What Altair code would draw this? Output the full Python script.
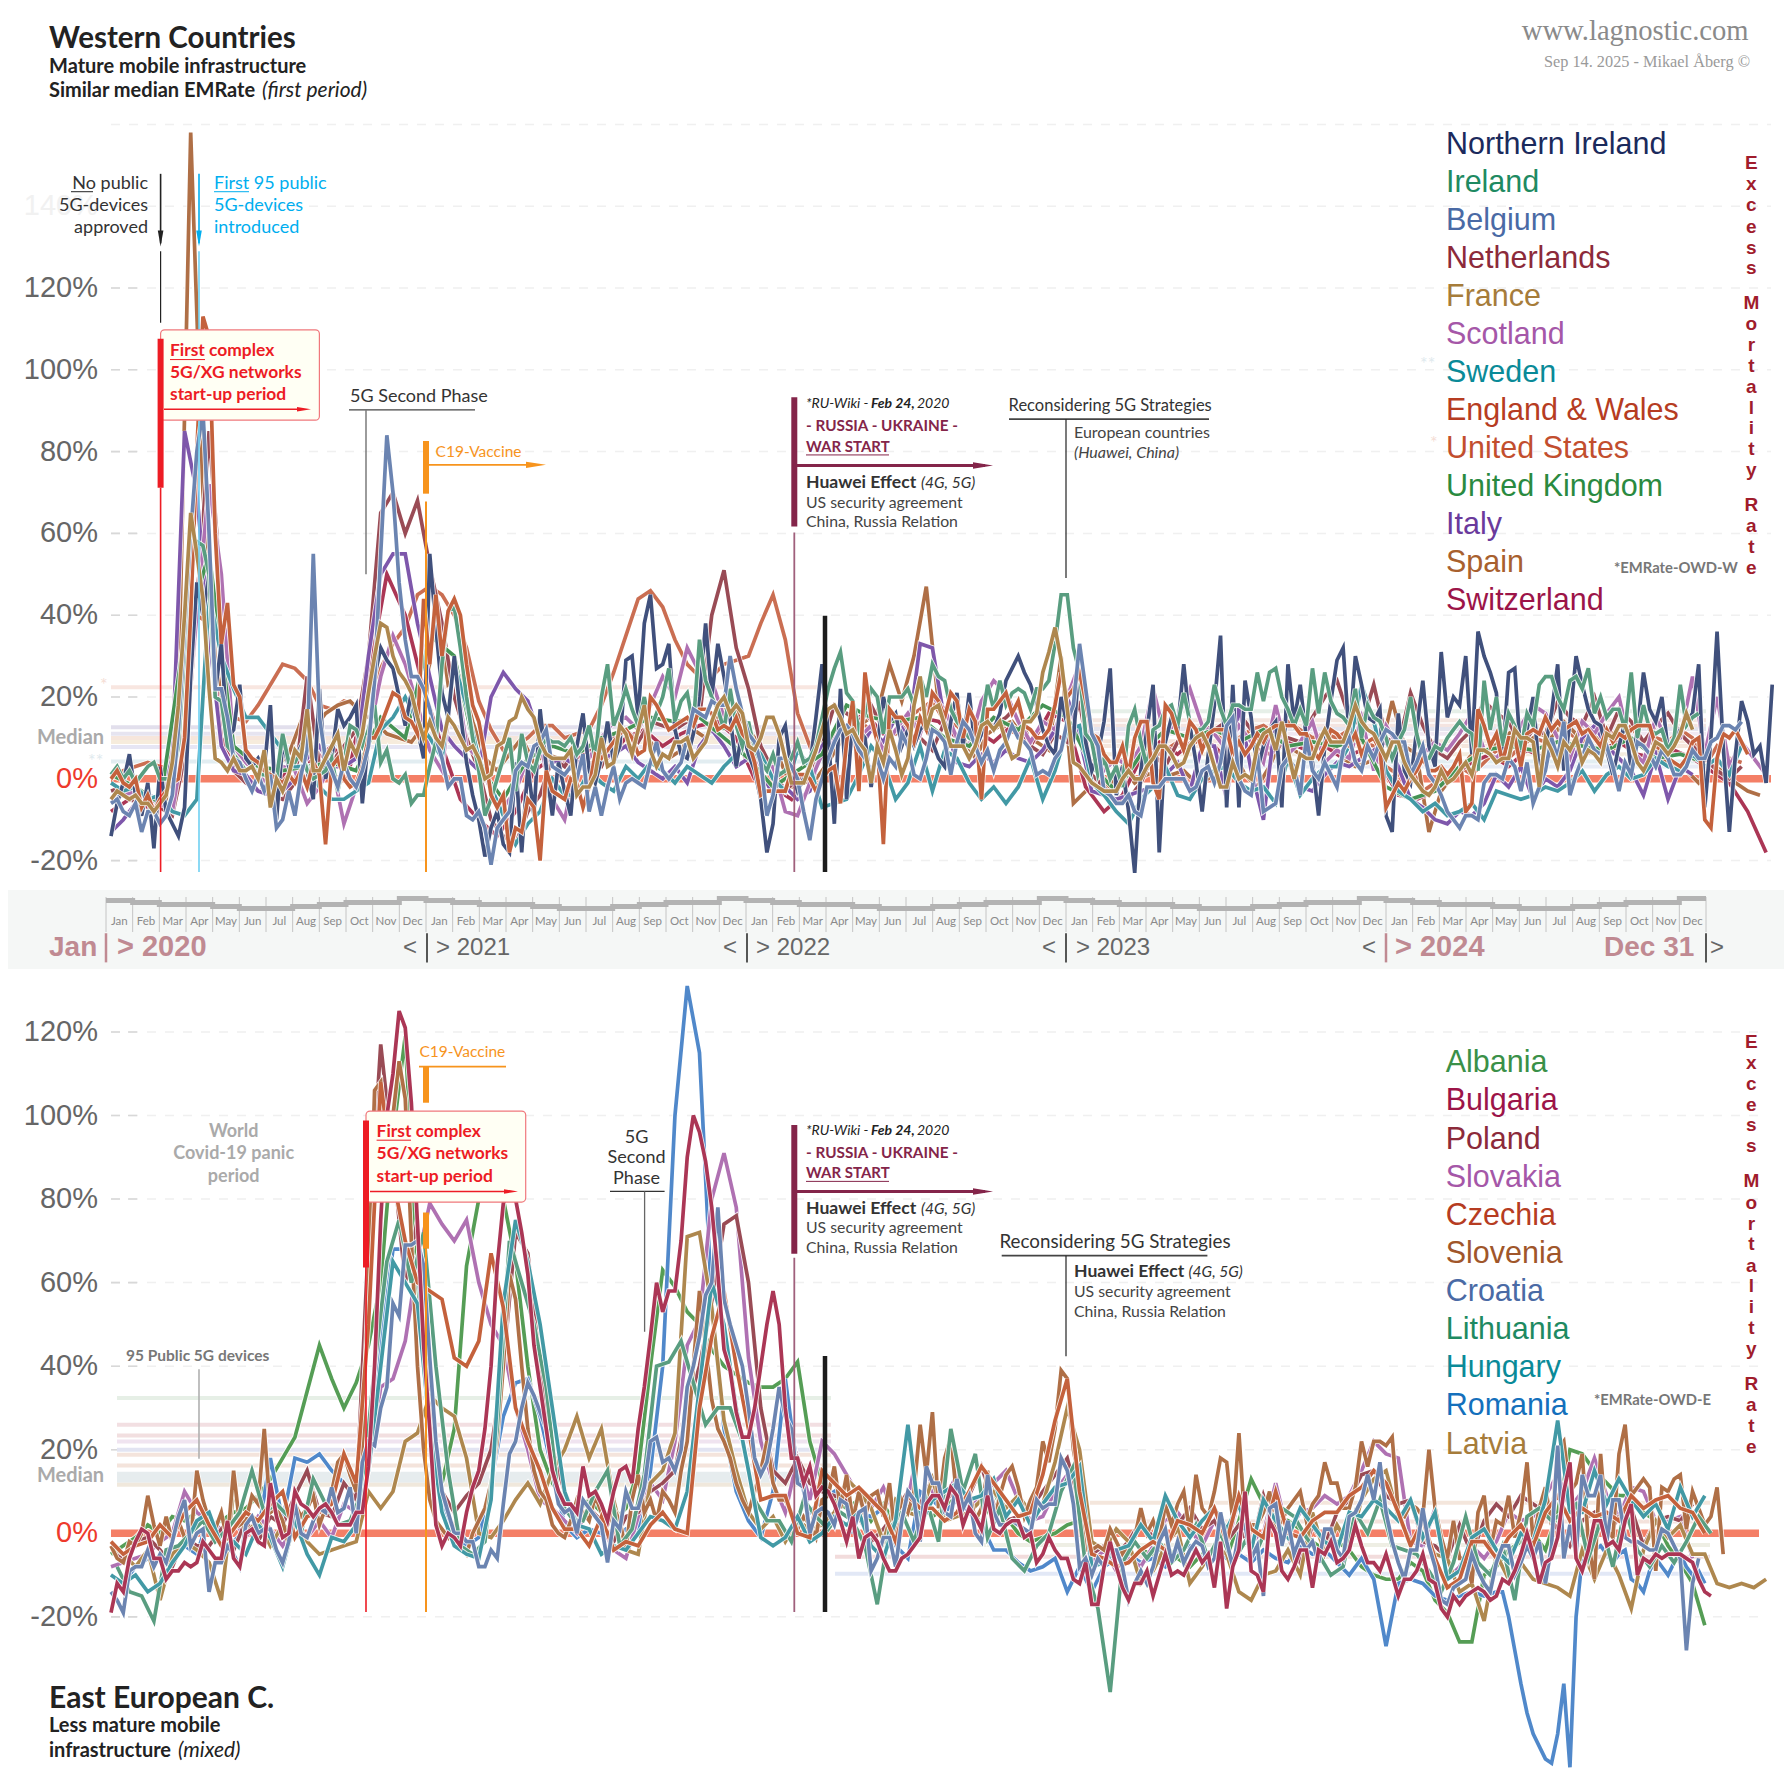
import altair as alt
import pandas as pd

# ---------- weekly excess-mortality readings (percent), West ----------
northern_ireland = [-14,-6,-1,6,-4,-9,-1,-17,3,-8, -11,-14,-7,25,48,40,50,21,33,10, 12,23,5,3,5,2,18,-10,9,3,
 5,8,2,-5,22,0,5,17,13,15, 18,-6,10,25,32,29,27,20,13,21, 12,5,55,37,21,15,30,16,4,-4,
 -10,-19,-12,-8,-16,-18,4,-18,3,-9, 17,3,-9,4,-3,-9,8,16,2,-1, 5,14,4,8,29,30,15,38,45,27,
 28,33,12,6,5,11,20,38,20,33, 25,15,3,12,6,2,-5,-18,-11,10, 13,2,-3,0,3,15,28,11,-11,22,
 -5,15,12,10,-2,8,20,14,16,8, 12,8,12,14,9,5,3,14,21,8, 21,7,11,14,12,16,24,27,30,26,
 23,18,12,8,6,20,13,10,29,9, 2,6,14,27,-4,3,-8,-23,2,12, 23,-18,9,15,12,28,13,4,-8,6,
 18,35,-7,23,-7,24,15,2,8,12, 14,-7,28,14,23,10,4,-9,8,19, 29,32,10,30,23,15,14,17,-9,-13,
 16,2,-1,12,24,8,3,31,15,20, 18,30,6,36,30,26,21,4,26,27, 5,12,20,1,8,16,28,2,14,30,
 23,17,14,13,7,1,8,14,2,12, 26,17,14,20,7,10,12,14,16,28, -7,10,36,8,-13,6,19,14,6,8,-1,23]
ireland = [1,3,0,2,-1,1,3,4,0,0, 0,8,30,50,58,57,50,20,19,8, 6,4,2,3,1,1,0,0,11,4,
 4,7,2,0,1,2,5,-3,4,13, 12,8,12,18,4,7,0,-1,1,-6, -4,-4,3,9,28,41,42,32,20,10,
 2,-9,-5,0,5,10,-3,11,4,2, 7,10,9,9,8,10,6,8,13,5, 20,28,13,17,22,17,13,20,12,16,
 20,27,14,19,21,13,34,24,20,17, 12,22,13,8,14,7,4,2,6,1, 2,5,9,4,5,8,15,22,27,31,
 21,19,12,16,22,20,11,20,20,20, 22,18,25,20,28,25,24,17,14,12, 10,9,13,23,17,24,18,21,22,21,
 17,22,22,24,33,45,45,32,26,11, 9,1,5,0,3,-2,13,17,9,3, 12,13,17,18,13,21,14,12,12,14,
 23,17,13,18,18,17,17,26,19,26, 27,20,17,13,17,13,27,16,26,19, 16,15,13,22,10,18,15,14,10,5,
 9,12,20,11,5,5,8,7,10,12, 14,12,11,2,24,12,20,8,16,13, 7,16,13,23,25,25,20,17,24,25,
 22,27,16,20,15,17,17,12,26,10, 18,12,11,12,7,10,23,13,15,16]
belgium = [-6,-5,-8,-9,-6,-13,-8,-8,-11,-9,-4,12,36,60,80,90,60,22,22,15,5,4,0,-3,1,-3,1,-12,-10,-3,-9,1,7,55,15,5,2,-2,4,0,-2,2,8,24,55,84,70,48,34,25,25,22,17,10,5,-2,0,0,-9,-10,-8,-12,-21,-12,-10,-8,2,
 4,3,8,9,12,3,2,1,3,0,6,-8,-2,-9,-2,3,-5,-1,0,-1,-2,4,9,2,0,2,4,10,17,16,15,19,18,18,30,22,16,11,9,4,-9,-4,5,5,3,0,-8,-15,-5,0,5,9,12,13,11,7,5,2,5,0,5,3,11,8,1,0,5,12,
 11,9,1,9,14,12,8,4,7,2,7,9,13,10,9,7,1,2,1,5,7,14,18,33,22,11,8,-3,-4,-6,-6,-4,-8,-9,-2,-2,-2,0,0,0,0,-3,-2,2,3,-1,4,13,15,0,-3,-4,6,-8,-7,-6,3,5,3,-4,10,2,0,4,1,-2,7,10,4,
 2,8,5,9,12,11,9,9,1,4,8,1,-1,-4,-8,-10,-12,-9,-9,-10,-1,1,1,0,5,3,-3,4,-6,-2,2,10,5,14,-4,1,5,10,7,6,8,3,-3,4,1,9,8,6,3,7,5,1,1,3,7,5,5,9,10,13,13,12,14]
france = [-5,-3,-4,-5,-4,-6,-6,-8,-6,-4,4,18,40,65,55,44,22,5,4,2,5,2,2,3,0,7,-7,0,-3,1,7,5,17,2,2,5,8,11,2,9,6,11,21,30,38,37,30,26,24,21,15,10,14,10,8,15,13,10,7,8,5,0,1,8,9,14,15,
 20,17,15,9,6,5,5,5,7,-4,-2,-2,1,10,3,4,13,11,6,12,18,7,3,6,5,9,9,10,5,7,9,14,18,20,16,18,16,8,7,10,15,15,11,5,-1,-1,-1,3,7,12,17,18,15,11,12,9,7,-1,8,4,12,7,1,5,18,25,
 12,17,18,13,8,8,8,5,8,13,14,12,14,9,5,6,14,14,16,26,31,37,29,17,4,3,1,-1,-2,-3,-3,-3,0,2,0,0,3,5,8,8,6,3,4,8,10,11,8,3,-2,-2,4,0,1,0,8,11,12,7,14,7,0,6,5,5,9,12,
 9,9,9,13,18,14,12,11,8,5,9,9,4,1,-1,-3,-4,-2,2,-1,0,2,4,1,7,7,6,4,5,5,12,10,10,9,-2,10,7,3,9,7,10,4,7,6,4,11,10,13,13,9,4,2,5,9,8,6,8,11,16,12]
england_wales = [0,2,-1,-2,0,-7,-4,-8,-5,-3, -1,0,10,40,80,113,108,60,33,43, 23,20,7,5,4,2,1,0,-1,1,
 -1,2,-2,4,1,-16,3,5,0,-2, -1,3,10,10,13,17,21,20,15,14, 11,44,28,45,30,41,44,40,28,18,
 14,6,-4,-7,-4,-18,-12,-13,-5,-7, -20,2,-3,-4,-5,0,-1,-7,-2,6, 5,7,9,11,12,10,6,7,20,18,
 15,12,13,14,15,13,17,17,16,12, 13,12,15,11,9,4,-4,-3,-3,-3, -3,2,1,1,0,-3,0,2,3,-6,
 9,19,-3,26,15,9,-16,17,15,15, 13,9,15,12,21,19,15,21,19,10, 17,14,-5,17,17,19,21,16,19,13,
 12,10,10,12,18,26,20,22,26,19, 11,10,6,4,4,8,1,10,14,14, -1,-5,18,16,11,7,14,12,7,11,
 12,12,12,6,9,6,8,11,9,12, 13,13,13,13,11,11,7,5,8,12, 11,9,8,11,6,9,10,7,-7,-4,
 -1,-3,0,2,5,2,2,3,1,3, 6,-8,-6,17,13,8,11,4,10,10, 3,11,12,11,15,12,14,12,13,14,
 11,12,10,8,12,9,11,10,12,13, 13,13,8,7,5,4,3,5,9,10, -10,-12,5,11,10,12,9,6]
# every second week
united_states = [0,2,3,4,3,2,12,40,38,22, 15,14,18,23,28,27,24,18,17,19, 18,21,27,33,37,45,47,45,40,32,
 19,12,7,8,10,13,13,10,11,12, 18,26,35,44,46,42,34,28,25,25, 28,29,30,38,45,34,16,8,13,17,
 16,14,12,13,11,15,17,19,14,13, 10,13,15,12,11,9,13,16,18,10, 4,3,5,4,7,5,7,9,8,10,
 11,9,10,12,13,11,14,12,10,11, 10,12,9,8,3,1,3,-3,-1,1, 3,1,4,7,5,8,10,9,12,11,
 9,11,12,10,13,8,10,9,12,10, 3,8,5,4]
netherlands = [-3,-2,-6,-4,-7,-9,5,40,85,45, 2,-1,-3,-4,-5,-1,25,3,4,8, 12,30,65,70,60,68,52,38,20,10,
 2,-10,-14,-16,-8,-4,5,3,8,4, 3,10,12,9,14,13,12,14,15,40, 51,32,22,8,2,-3,0,0,8,18,
 16,14,18,12,15,11,10,7,14,16, 12,14,13,15,18,8,6,11,9,19, 1,-2,-6,-5,-1,6,3,9,8,13,
 12,14,16,12,8,7,10,9,15,20, 24,15,13,23,10,8,21,13,7,5, 9,12,19,16,14,8,12,11,19,15,
 13,20,10,17,14,9,13,16,11,8, 5,2,0,3]
scotland = [-5,-4,-3,-5,-6,-8,10,40,72,50, 8,4,1,-2,3,2,-6,-2,4,-11, -2,10,25,35,28,18,7,2,28,8,
 5,-3,-7,-3,5,9,-5,-10,4,5, 10,14,15,12,18,25,20,32,26,24, 15,13,8,3,3,-8,-9,-1,6,10,
 12,10,13,7,12,16,11,20,17,10, 8,19,24,21,14,9,14,12,20,28, 9,2,5,3,8,22,10,15,22,13,
 11,7,13,9,4,18,6,9,14,4, 7,5,15,2,13,8,3,6,9,7, 11,16,7,5,9,13,18,16,10,5,
 14,11,16,20,7,4,15,9,10,25, 6,20,3,9,5,1]
sweden = [-1,-3,-2,-5,-4,-8,-9,-5,45,30, 22,15,15,11,7,3,3,-2,-5,-5, -3,-1,12,15,20,14,10,5,28,18,
 5,-2,-9,-16,-11,-8,0,-4,-4,2, -1,-3,3,0,4,2,-1,3,1,-1, 3,6,10,6,0,-3,7,3,-7,-6,
 -5,1,8,4,-5,-1,8,-3,7,5, -1,-5,-2,-6,-2,5,-5,2,12,13, -1,-4,-8,-11,-5,-2,3,-4,-5,0,
 2,3,-1,-3,-2,-6,5,-4,0,3, 3,8,23,14,2,-3,-5,-8,-6,-9, -8,-6,-10,-3,-4,-5,-4,-2,-3,-1,
 2,-3,1,3,0,1,5,3,2,6, 3,5,1,8]
italy = [-13,-10,-6,-4,-5,5,85,70,35,8, 2,1,-3,-4,-3,0,5,8,3,3, 5,30,50,55,55,38,25,12,8,5,
 2,20,26,22,19,10,4,5,3,2, 5,6,8,4,2,0,3,-1,8,12, 8,3,5,2,-4,-2,-5,-3,8,12,
 10,7,12,9,15,10,33,32,14,4, 3,6,4,7,5,4,7,12,20,10, -3,-4,-5,-4,-3,-2,1,4,-3,8,
 8,-5,18,2,-10,15,4,-2,-3,1, 4,3,5,7,9,3,-5,-7,-10,-11, -8,-9,-6,1,-2,3,-5,0,-2,2,
 10,13,8,5,2,-4,6,-5,3,1]
spain_odd_weeks = [-3,-4,-5,-6,-5,20,158,70,30,10, 5,3,1,3,6,14,12,16,18,19, 16,14,11,10,9,13,45,23,25,14,
 5,2,6,10,4,6,5,3,3,2, 7,8,8,11,7,5,7,12,10,15, 20,14,10,3,5,-2,-1,0,4,9,
 12,14,16,28,19,30,47,18,11,10, 5,11,13,14,10,9,7,30,-6,-3, -1,-2,3,-1,1,2,1,2,-1,0,
 4,7,1,-2,3,10,7,5,9,8, 5,3,4,6,19,8,6,-13,-3,1, 4,8,7,10,12,9,11,10,14,11,
 12,9,7,11,8,10,5,3,2,-1, 3,2,-1,-3,-4]
# every fourth week
united_kingdom = [1,-2,-6,35,55,8,3,2,3,4,2,15,10,35,30,3,-5,5,8,6,10,12,15,14,15,10,5,-2,2,6,18,15,14,15,10,8,15,12,18,15,3,-3,6,12,10,12,9,12,8,9,8,10,-2,-5,-3,3,7,8,7,9,8,7,10,5,6,4]
# every third week
switzerland = [-8,-5,-7,-3,30,55,10,2,-3,-2,5,4,8,3,25,50,40,22,8,-5,-10,-14,-8,2,5,4,7,5,10,12,8,11,13,14,10,0,-2,-5,3,10,13,16,11,12,15,14,10,12,9,13,8,16,14,-2,-8,-4,5,9,6,10,8,3,8,6,9,7,8,5,7,4,-4,-5,-3,1,4,6,3,7,5,8,6,7,9,6,5,7,5,2,-1,-8,-18]

# ---------- East ----------
bulgaria = [-19,-12,-14,-6,-2,1,0,-6,-6,-11, -9,-9,-7,-8,-7,-2,-4,-6,-6,3, -6,-8,0,1,-2,-3,12,4,-1,0,
 10,7,6,4,6,7,5,2,2,2, 5,5,16,40,75,100,110,125,121,103, 74,45,25,2,-3,0,-1,-3,5,11,
 15,25,40,64,79,82,80,72,62,45, 35,25,15,10,7,7,5,16,9,10, 7,3,10,15,16,12,25,35,47,60,
 53,58,58,70,90,100,96,89,78,62, 44,39,29,23,23,30,40,50,58,50, 30,18,18,12,16,9,11,10,7,3,
 -2,4,-6,-1,0,-2,-6,-9,-9,-6, -5,-3,-1,7,9,9,6,11,9,2, 6,4,1,9,1,0,2,3,3,-1,
 0,-7,-5,-1,-4,-6,-6,-11,-12,-7, -17,-17,-8,-2,-8,-13,-16,-12,-12,-9, -15,-10,-5,-10,-9,-10,-7,-4,-7,-5,
 -13,-2,-18,-8,-4,10,-9,-10,-14,3, 0,-9,-11,-8,-4,-4,-13,-4,-5,-2, -7,-6,-4,2,-3,-7,-7,-9,-5,-10,
 -15,-11,-11,-9,-5,-11,-12,-18,-20,-15, -17,-15,-14,-13,-14,-16,-15,-11,-12,-9, -5,0,-5,-12,-7,-6,-1,10,17,-6,
 -9,-4,3,3,-3,-2,-4,3,7,-10, -6,-7,-5,-6,-5,-5,-5,-6,-7,-11, -14,-15]
croatia = [-14,-16,-19,-9,-8,-8,-4,-8,-5,-7, -2,4,8,-3,0,1,-14,-7,-7,-3, -5,-8,2,4,0,1,1,-4,-7,-2,
 7,0,-1,3,6,5,11,5,6,11, 0,17,22,21,30,35,55,52,69,69, 70,64,42,22,10,5,0,0,-2,-2,
 -8,-8,-4,-6,7,19,22,30,36,33, 29,25,15,7,5,6,0,8,6,4, 2,-7,3,1,10,6,6,11,22,23,
 17,18,15,20,35,40,47,57,60,78, 56,50,45,40,30,18,14,17,25,35, 28,25,12,11,0,5,6,5,2,8,
 7,0,5,6,-9,-6,-1,-1,-8,3, 10,8,-2,16,12,12,5,4,13,6, 9,0,-2,14,5,2,2,3,2,1,
 0,8,6,7,7,18,15,7,-8,-6, -10,-6,-8,-4,-4,-8,-16,-12,-9,-12, -8,-2,1,-7,-2,-7,-4,-2,-3,-8,
 -6,5,-2,-8,0,2,-6,-3,-15,6, 7,-3,3,-5,-1,-4,-2,-7,1,1, -4,-6,4,5,8,14,8,17,5,-2,
 -7,-11,-4,-4,6,-3,-8,-16,-17,-13, -12,-11,-5,-9,-12,-14,-7,-3,-3,-10, -7,-3,-6,-2,-12,-3,21,-6,2,-5,
 14,9,9,14,-2,8,8,-1,-2,-2, -3,-4,-4,1,0,-3,-6,-28,-12,-6]
slovenia = [-3,-6,-7,-2,-3,0,9,2,-3,4, -2,3,-1,-2,15,8,3,1,5,-2, 15,2,3,9,7,25,5,6,3,-3,
 7,4,6,9,2,6,10,17,19,14, 10,20,60,106,108,85,100,113,104,70, 40,20,8,3,1,-1,2,-3,-5,0,
 3,6,12,22,40,62,56,40,25,15, 10,8,2,0,-1,3,8,5,3,9, 5,2,6,3,-4,8,14,5,8,3,
 10,8,5,15,22,40,58,45,32,25, 22,18,12,8,5,10,15,22,12,8, 8,5,1,4,2,-1,8,9,16,6,
 14,3,10,4,9,10,4,12,-2,8, 5,10,26,14,29,6,18,23,8,7, 10,3,6,15,2,9,14,16,11,4,
 8,11,22,17,25,39,37,20,12,-4, -4,-3,-4,1,-2,-5,-3,-1,6,0, 3,-2,7,2,7,10,0,14,6,4,
 10,18,17,3,24,2,2,2,5,10, 0,3,6,8,10,3,7,9,17,12, 12,6,6,11,22,16,22,22,21,23,
 5,4,7,6,4,20,6,-1,-6,3, -6,-6,-12,5,9,-4,3,2,9,-1, 5,17,-2,6,11,2,20,22,10,12,
 19,-2,-11,19,1,-1,19,26,9,11, 13,11,-9,11,10,13,14,1,10,6, 2,4,11,-5]
czechia = [-2,-5,-3,-2,2,-1,5,8,2,-3, 1,5,3,7,10,-1,4,5,7,19, 12,50,108,85,70,60,58,56,42,40,
 46,67,54,30,22,15,6,1,1,-3, 4,-4,-2,-3,2,5,1,0,30,47, 58,40,25,8,9,9,0,-1,15,12,
 9,11,8,5,-2,9,6,6,3,5, 10,16,12,8,4,5,14,27,37,10, -5,-6,-8,-7,-4,-2,-4,3,2,0,
 6,-2,9,1,-1,10,0,-1,3,5, 5,9,11,15,12,5,-3,3,-6,-13, -11,-2,-2,-6,-1,2,-3,5,9,3,
 6,4,5,3,9,6,8,9,6,5, 0]
hungary = [-10,-12,-10,-14,-12,-7,-3,3,5,-3, -2,-5,2,-1,-8,3,-5,-10,-1,-2, 2,15,40,65,60,55,25,5,-3,-5,
 -6,8,55,75,65,50,30,10,2,1, -5,-3,-4,0,4,3,1,10,35,60, 50,30,15,-1,-3,-1,4,-2,0,4,
 2,5,-3,-6,3,26,2,8,10,12, 8,9,13,4,8,2,7,11,12,16, -8,-7,-4,-3,2,-2,9,3,-1,3,
 6,1,7,-4,8,3,-1,6,2,-2, -4,5,4,8,6,3,8,-1,5,-11, -9,-1,1,-4,-7,0,-2,8,27,5,
 5,15,7,13,8,4,7,1,11,4, 9]
lithuania_odd_weeks = [-8,-14,-15,-21,-4,-3,0,3,-2,1, 5,15,5,7,4,0,13,7,2,3, 10,40,65,75,60,72,40,15,-3,-5,
 -2,25,70,60,50,35,8,4,3,10, 15,-3,1,14,40,41,46,36,26,30, 30,22,8,3,3,-2,8,4,1,5,
 3,-3,-17,1,5,-2,8,-2,25,10, 19,-1,6,-6,-9,-3,0,10,16,-8, -18,-38,-7,-2,-6,-2,-7,-4,2,-6,
 0,-7,-2,-4,3,6,4,-1,-5,-10, -8,5,0,8,-3,-4,-5,-9,-14,-7, 4,-7,-10,-3,-16,4,6,3,5,7,
 -6,3,-8,6,-4,-8,-3,-7,-2,4, 0]
romania_until_226 = [-10,-12,-8,-6,-6,-4,-3,-5,4,-3, -2,1,0,18,3,18,17,19,15,12, 8,15,45,68,68,65,28,8,0,-3,
 -1,12,28,36,37,28,15,2,-1,1, 0,-2,1,0,15,40,100,131,115,55, 25,10,3,-1,10,37,15,5,8,10,
 7,5,4,6,-3,-6,10,8,5,8, 5,2,-4,-4,-7,-9,-8,-6,-14,-8, -14,-8,-6,-5,-7,-6,-8,-4,-3,-6,
 -4,-6,-5,-7,-4,-6,-7,-3,-5,-4, -7,-10,-6,-11,-27,-12,-11,-12,-15,-16, -15,-14,-15,-14]
romania_from_227 = [-14,-20,-28,-36,-43,-48,-51,-54,-55,-48,-36,-56,-20,-6,-3,-4,-3,-5,-7,-5,-4,-11,-12,-14,-9,-6,-8,-10,-7,-5,-8,-10,-9,-12]
slovakia = [-8,-7,-6,-5,-2,0,10,5,3,1, 3,-1,4,1,-3,2,-1,3,-1,7, 5,15,35,37,46,65,79,74,70,75,
 60,50,45,30,20,8,6,3,0,7, 2,-4,-6,4,12,8,22,45,51,80, 91,78,42,22,12,5,18,8,22,19,
 14,9,6,11,4,8,23,10,8,14, 6,9,12,15,8,3,4,10,14,4, -7,-4,-9,-6,-8,-3,3,5,1,-3,
 3,-3,8,-2,0,12,0,5,6,9, 7,9,15,22,19,18,-2,-3,6,-11, -8,-3,-6,-2,5,3,4,9,14,6,
 10,18,9,4,11,10,3,3,4,-6]
poland = [-3,-6,-2,-1,-4,-8,-1,-3,-3,1, -4,3,-2,4,2,9,15,5,4,12, 8,70,117,90,60,75,30,10,5,9,
 12,20,40,72,67,40,20,10,3,6, 3,-2,4,5,10,12,15,30,40,55, 74,76,60,30,15,12,18,12,10,9,
 8,4,-2,1,5,10,7,13,8,10, 9,16,7,3,4,6,10,14,18,7, -5,-3,-5,-2,3,-1,5,2,6,1,
 3,-2,2,-4,9,0,-1,-7,2,-3, 5,8,14,15,9,7,8,-2,-3,-6, 2,-5,3,7,4,9,7,5,1,-3,
 3,5,-1,4,6,-3,3,4,3,7]
latvia = [-3,-5,-8,-4,-16,-5,-2,-4,-7,-16, 10,0,3,-3,2,0,-2,-5,-4,-3, -2,10,6,10,22,24,33,30,28,18,
 0,-1,3,8,12,7,15,20,28,18, 25,8,-4,-5,12,15,24,71,72,54, 27,15,5,1,4,-2,3,1,2,5,
 13,10,6,-2,8,5,4,13,3,4, 5,8,10,6,9,5,7,17,30,20, -2,-4,1,-2,-12,-9,-3,1,-12,-8,
 -3,-5,-14,-16,-10,-9,-4,-10,5,-5, 2,-3,8,13,15,4,-2,0,-5,-6, -14,-12,-21,-5,-11,-7,-11,-12,-13,-15,
 -4,-11,-4,-10,-18,-4,3,-1,2,-5, -5,-12,-13,-12,-13,-11]
albania = [-5,-3,-1,2,0,4,3,5,2,3, 5,6,9,13,18,23,34,45,37,30, 36,45,60,95,119,60,30,12,25,64,
 80,85,80,65,40,20,12,8,5,8, 5,3,6,15,40,63,59,53,50,44, 40,38,36,35,35,37,41,22,12,8,
 6,8,3,7,2,5,8,4,6,9, 7,2,10,4,0,-2,-1,0,2,3, -5,-6,-4,-7,-4,-5,-3,-6,-8,-5,
 -4,-6,3,13,7,4,3,1,-2,-4, -2,-4,-8,-10,-11,-11,-7,-9,-16,-19, -26,-26,-10,-8,-4,-2,0,-4,5,20,
 19,15,12,9,9,5,3,-3,-7,-12, -22]

west_series = [
 ("United States", "#c8694c", [(0, 2, united_states)]),
 ("Spain", "#ac6a40", [(1, 2, spain_odd_weeks)]),
 ("Switzerland", "#a83050", [(0, 3, switzerland)]),
 ("Netherlands", "#964550", [(0, 2, netherlands)]),
 ("Italy", "#7a52a8", [(0, 2, italy)]),
 ("Scotland", "#ac6cb0", [(0, 2, scotland)]),
 ("United Kingdom", "#3f8f50", [(0, 4, united_kingdom)]),
 ("Sweden", "#3c96a2", [(0, 2, sweden)]),
 ("Northern Ireland", "#3a4a78", [(0, 1, northern_ireland)]),
 ("Ireland", "#549a7c", [(0, 1, ireland)]),
 ("England & Wales", "#c25c36", [(0, 1, england_wales)]),
 ("Belgium", "#6680ae", [(0, 1, belgium)]),
 ("France", "#ab8348", [(0, 1, france)]),
]
east_series = [
 ("Albania", "#4f9a50", [(0, 2, albania)]),
 ("Romania", "#4a84c8", [(0, 2, romania_until_226), (227, 1, romania_from_227)]),
 ("Slovakia", "#ac6cb0", [(0, 2, slovakia)]),
 ("Poland", "#964550", [(0, 2, poland)]),
 ("Latvia", "#ab8348", [(0, 2, latvia)]),
 ("Slovenia", "#ac6a40", [(0, 1, slovenia)]),
 ("Lithuania", "#549a7c", [(1, 2, lithuania_odd_weeks)]),
 ("Hungary", "#3c96a2", [(0, 2, hungary)]),
 ("Czechia", "#c25c36", [(0, 2, czechia)]),
 ("Croatia", "#6680ae", [(0, 1, croatia)]),
 ("Bulgaria", "#a83050", [(0, 1, bulgaria)]),
]

west_legend = [("Northern Ireland","#1b2a5c"),("Ireland","#1e8a62"),("Belgium","#4a6aa5"),("Netherlands","#8c2a3a"),("France","#a67c3a"),("Scotland","#a557a8"),("Sweden","#0a8a98"),("England & Wales","#b63c22"),("United States","#c24e2e"),("United Kingdom","#2a8a40"),("Italy","#6a3a9c"),("Spain","#a8602e"),("Switzerland","#9c1448")]
east_legend = [("Albania","#3a9048"),("Bulgaria","#9c1448"),("Poland","#8c2a3a"),("Slovakia","#a557a8"),("Czechia","#b63c22"),("Slovenia","#a0562a"),("Croatia","#4a6aa5"),("Lithuania","#1e8a62"),("Hungary","#0a8a98"),("Romania","#1470bc"),("Latvia","#a67c3a")]

west_medians_1 = [(22.4,"#f8e6e0",4),(12.6,"#e2dfec",4),(11,"#e6e4f0",4),(10,"#f6e6dc",4),(9,"#f6ecdc",4),(7.8,"#e6e6f4",4),(4.2,"#e2edf1",4)]
west_medians_2 = [(16.5,"#e6efe8",4),(14.3,"#f4e6e0",4),(13,"#f4e4e0",4),(12.2,"#e4e4ee",4),(11,"#f0e8f2",4),(9.2,"#f6e6dc",4),(8,"#f6e6dc",4),(6,"#f4ecdf",4),(4.2,"#e2edf1",4),(3,"#e8ecf6",4)]
east_medians_1 = [(32.4,"#e6efe6",4),(26,"#f2dfe2",4),(23.4,"#f2dfe0",4),(22,"#f0e4f0",4),(20,"#e2e4f2",4),(18.8,"#f4e4dc",4),(16.2,"#f4e4dc",4),(13.4,"#e6ecee",11),(11.6,"#f0e8dc",4)]
east_medians_2 = [(7.3,"#f4e6dc",1090,4),(2.8,"#f4e2dc",1045,4),(-2.8,"#eeeee4",840,4),(-5.6,"#f2dcdc",835,4),(-9.7,"#e2e8f6",835,4)]

months = ["Jan","Feb","Mar","Apr","May","Jun","Jul","Aug","Sep","Oct","Nov","Dec"]
season_levels = [3.5,3,2.5,2.5,2,1.5,1.5,2,2.5,3,3,4]
years = 5

LATO = "Lato"
SANS = "Liberation Sans"
SERIF = "Liberation Serif"
W = 1776
WEEK_PX = 6.13
def wk(px):
    return (px - 111) / WEEK_PX

one = pd.DataFrame({"k": [0]})
xs = alt.Scale(domain=[wk(8), wk(1784)], nice=False, zero=False)
ys_w = alt.Scale(domain=[-(882 - 770.8) / 4.09, 770.8 / 4.09], nice=False, zero=False)
ys_e = alt.Scale(domain=[-(804 - 564.3) / 4.178, 564.3 / 4.178], nice=False, zero=False)

def ry(y, y0):
    return (y * 0.9933 if y0 == 8 else 880 + (y - 880) * 1.0046) - y0

def T(txt, x, y, y0, size=17, color="#333333", font=LATO, weight="normal", style="normal", align="left"):
    return alt.Chart(one).mark_text(text=txt, font=font, fontSize=size, fontWeight=weight, fontStyle=style,
                                    color=color, align=align, baseline="alphabetic").encode(x=alt.value(x - 8), y=alt.value(ry(y, y0)))
def HR(x1, x2, y, y0, color, w=1.2):
    return alt.Chart(one).mark_rule(color=color, strokeWidth=w).encode(x=alt.value(x1 - 8), x2=alt.value(x2 - 8), y=alt.value(ry(y, y0)))
def VR(x, y1, y2, y0, color, w=1.2):
    return alt.Chart(one).mark_rule(color=color, strokeWidth=w).encode(x=alt.value(x - 8), y=alt.value(ry(y1, y0)), y2=alt.value(ry(y2, y0)))
def ARR(x, y, y0, color, size=196, down=False):
    path = "M-0.35,-1L0,1L0.35,-1Z" if down else "M-1,-0.32L1,0L-1,0.32Z"
    return alt.Chart(one).mark_point(shape=path, filled=True, size=size, color=color, opacity=1).encode(x=alt.value(x - 8), y=alt.value(ry(y, y0)))
def BOX(x1, x2, y1, y2, y0):
    return alt.Chart(one).mark_rect(fill="#fffff4", stroke="#f0787c", strokeWidth=1.2, cornerRadius=4).encode(
        x=alt.value(x1 - 8), x2=alt.value(x2 - 8), y=alt.value(ry(y1, y0)), y2=alt.value(ry(y2, y0)))

def lines(series, ys):
    out = []
    for name, color, segments in series:
        wk_list, val_list = [], []
        for start, step, vals in segments:
            for i, v in enumerate(vals):
                wk_list.append(start + i * step)
                val_list.append(v)
        df = pd.DataFrame({"week": wk_list, "value": val_list, "country": name})
        enc = dict(x=alt.X("week:Q", scale=xs, axis=None), y=alt.Y("value:Q", scale=ys, axis=None))
        out.append(alt.Chart(df).mark_line(color="#ffffff", strokeWidth=5.4, opacity=0.85, strokeJoin="miter").encode(**enc))
        out.append(alt.Chart(df).mark_line(color=color, strokeWidth=3.7, opacity=0.97, strokeJoin="miter").encode(**enc))
    return out

def base_layers(ys, grid_vals, labelled, strong, faint_val, x_end):
    g = pd.DataFrame({"v": grid_vals, "a": wk(111), "b": wk(x_end)})
    a = alt.Chart(g).mark_rule(color="#f0f0f0", strokeWidth=1.5, strokeDash=[9, 9]).encode(
        y=alt.Y("v:Q", scale=ys, axis=None), x=alt.X("a:Q", scale=xs, axis=None), x2="b:Q")
    g2 = pd.DataFrame({"v": strong, "a": wk(111), "b": wk(137)})
    b = alt.Chart(g2).mark_rule(color="#d8d8d8", strokeWidth=1.6, strokeDash=[9, 8]).encode(
        y=alt.Y("v:Q", scale=ys, axis=None), x=alt.X("a:Q", scale=xs, axis=None), x2="b:Q")
    cols = ["#ee3a2c" if v == 0 else ("#f1f1f1" if v == faint_val else "#666666") for v in labelled]
    lab = pd.DataFrame({"v": labelled, "t": [f"{v}%" for v in labelled], "col": cols})
    l = alt.Chart(lab).mark_text(font=SANS, fontSize=29, align="right", baseline="middle").encode(
        y=alt.Y("v:Q", scale=ys, axis=None), x=alt.value(90), text="t:N", color=alt.Color("col:N", scale=None))
    z = pd.DataFrame({"v": [0], "a": wk(111), "b": wk(x_end)})
    c = alt.Chart(z).mark_rule(color="#f47f66", strokeWidth=7.5).encode(
        y=alt.Y("v:Q", scale=ys, axis=None), x=alt.X("a:Q", scale=xs, axis=None), x2="b:Q")
    return a, b, l, c

def medians(rows, ys):
    df = pd.DataFrame(rows, columns=["v", "col", "a", "b", "w"])
    return alt.Chart(df).mark_rule().encode(
        y=alt.Y("v:Q", scale=ys, axis=None), x=alt.X("a:Q", scale=xs, axis=None), x2="b:Q",
        color=alt.Color("col:N", scale=None), strokeWidth=alt.StrokeWidth("w:Q", scale=None))

def legend(items, x, y, step, y0):
    return [T(n, x, y + i * step, y0, size=30.5, color=c, font=SANS) for i, (n, c) in enumerate(items)]

def vertical(word_rows, x, y0, color="#a01c2c"):
    return [T(ch, x, y, y0, size=19, color=color, font=SANS, weight="bold", align="center") for ch, y in word_rows]

# ---------- West panel ----------
Y0 = 8
RED, ORANGE, MAROON, CYAN = "#ed1c24", "#f7941d", "#84254a", "#00aeef"
w_med = [(v, c, wk(111), wk(825), w) for v, c, w in west_medians_1] + [(v, c, wk(1085), wk(1706), w) for v, c, w in west_medians_2]
wa, wb, wl, wz = base_layers(ys_w, [-20,0,20,40,60,80,100,120,140,160], [-20,0,20,40,60,80,100,120,140], [-20,0,20,40,60,80,100,120], 140, 1771)
west_layers = [wa, wb, wl, medians(w_med, ys_w), wz]
west_layers += lines(west_series, ys_w)
west_letters = list(zip("ExcessMortalityRate", [v / 1.75 for v in [298,335,372,410,447,483,545,582,618,655,692,729,765,802,838,900,938,975,1012]]))
west_layers += [
    VR(160.6, 491, 878, Y0, RED, 1.6), VR(199, 253, 878, Y0, "#6fd0f2", 1.6), VR(426, 505, 878, Y0, ORANGE, 2),
    VR(794.3, 536, 878, Y0, "#a0607c", 1.8), VR(825, 620, 878, Y0, "#1c1c1c", 4.5),
    VR(160.6, 175, 245, Y0, "#222222", 1.6), ARR(160.6, 240, Y0, "#222222", 256, True), VR(160.6, 253, 325, Y0, "#222222", 1.2),
    VR(199, 175, 245, Y0, CYAN, 1.6), ARR(199, 240, Y0, CYAN, 256, True),
    T("No public", 148, 190, Y0, 18, align="right"), T("5G-devices", 148, 212.6, Y0, 18, align="right"),
    HR(71, 93, 193, Y0, "#222222", 1),
    T("approved", 148, 235, Y0, 18, align="right"),
    T("First 95 public", 214, 190, Y0, 18, CYAN), HR(214, 249, 193, Y0, CYAN, 1),
    T("5G-devices", 214, 212.6, Y0, 18, CYAN), T("introduced", 214, 235, Y0, 18, CYAN),
    BOX(160.6, 319.4, 332, 423, Y0),
    VR(160.6, 341, 491, Y0, RED, 6),
    T("First complex", 170, 358, Y0, 17.4, RED, weight="bold"), HR(170, 205, 362, Y0, RED, 1),
    T("5G/XG networks", 170, 380.6, Y0, 17.4, RED, weight="bold"), T("start-up period", 170, 403, Y0, 17.4, RED, weight="bold"),
    HR(164, 300, 412, Y0, RED, 1.4), ARR(304, 412, Y0, RED, 196),
    T("5G Second Phase", 350, 404.6, Y0, 18), HR(349, 475, 412.6, Y0, "#444444", 1.3), VR(366, 413, 578, Y0, "#666666", 1.3),
    VR(426, 444, 497, Y0, ORANGE, 6), T("C19-Vaccine", 435.6, 460, Y0, 15.5, ORANGE),
    HR(429, 530, 468, Y0, ORANGE, 1.6), ARR(536, 468, Y0, ORANGE, 400),
    VR(794.3, 400, 530, Y0, MAROON, 6), T("*RU-Wiki  -", 806, 411, Y0, 14, "#222222", style="italic"),
    T("Feb 24,", 871, 411, Y0, 14, "#222222", style="italic", weight="bold"), T("2020", 917, 411, Y0, 14, "#222222", style="italic"),
    T("- RUSSIA - UKRAINE -", 806, 434, Y0, 15.3, MAROON, weight="bold"), T("WAR START", 806, 455, Y0, 15, MAROON, weight="bold"),
    HR(806, 889, 458, Y0, MAROON, 1), HR(795, 985, 468.6, Y0, MAROON, 3), ARR(983, 468.6, Y0, MAROON, 400),
    T("Huawei Effect", 806, 491, Y0, 17.6, weight="bold"), T("(4G, 5G)", 921, 491, Y0, 15.5, style="italic"),
    T("US security agreement", 806, 511, Y0, 15.8, "#444444"), T("China, Russia Relation", 806, 531, Y0, 15.8, "#444444"),
    T("Reconsidering 5G Strategies", 1008.6, 414, Y0, 16.5), HR(1009, 1209, 422, Y0, "#444444", 1.8), VR(1066, 422, 582, Y0, "#222222", 1.2),
    T("European countries", 1074, 441, Y0, 16, "#444444"), T("(Huawei, China)", 1074, 460.6, Y0, 16, "#444444", style="italic"),
    T("Western Countries", 49, 48.5, Y0, 29.5, "#222222", weight="bold"), T("Mature mobile infrastructure", 49, 73, Y0, 20, "#222222", weight="bold"),
    T("Similar median EMRate", 49, 98, Y0, 20, "#222222", weight="bold"), T("(first period)", 262, 98, Y0, 21, "#222222", style="italic"),
    T("www.lagnostic.com", 1748.6, 40, Y0, 28.6, "#8a8a8a", font=SERIF, align="right"),
    T("Sep 14. 2025 - Mikael \u00c5berg \u00a9", 1750, 67, Y0, 16.3, "#9a9a9a", font=SERIF, align="right"),
    T("Median", 37, 748.6, Y0, 20, "#aaaaaa", weight="bold"),
    T("*EMRate-OWD-W", 1614, 577, Y0, 14.8, "#777777", weight="bold"),
    T("**", 1420, 372, Y0, 18, "#dfeaee"), T("*", 1430, 452, Y0, 18, "#f5ddd5"), T("*", 100, 696, Y0, 18, "#f5ddd5"), T("**", 88, 772, Y0, 18, "#dfeaee"),
]
west_layers += legend(west_legend, 1446, 155.4, 38.25, Y0)
west_layers += vertical(west_letters, 1751.4, Y0)
west = alt.layer(*west_layers).properties(width=W, height=882)

# ---------- Timeline strip ----------
S0 = 890
ys_s = alt.Scale(domain=[-13.6, 6.15], nice=False, zero=False)
mpos = [wk(106 + m * 1600 / (12 * years)) for m in range(12 * years + 1)]
mid = [wk(106 + (m + 0.5) * 1600 / (12 * years)) for m in range(12 * years)]
labels = [months[m % 12] for m in range(12 * years)]
levels = [season_levels[m % 12] for m in range(12 * years)]
step_df = pd.DataFrame({"week": mpos, "level": levels + [levels[-1]]})
tick_df = pd.DataFrame({"week": mpos})
lab_df = pd.DataFrame({"week": mid, "m": labels})
PINK, GREY = "#c08a92", "#666666"
strip_layers = [
    alt.Chart(one).mark_rect(fill="#f5f7f6").encode(x=alt.value(0), x2=alt.value(W), y=alt.value(0), y2=alt.value(79)),
    alt.Chart(tick_df).mark_rule(color="#c4c4c4", strokeWidth=1).encode(x=alt.X("week:Q", scale=xs, axis=None), y=alt.value(7), y2=alt.value(42)),
    alt.Chart(step_df).mark_line(color="#b3b3b3", strokeWidth=5, interpolate="step-after").encode(
        x=alt.X("week:Q", scale=xs, axis=None), y=alt.Y("level:Q", scale=ys_s, axis=None)),
    alt.Chart(lab_df).mark_text(font=LATO, fontSize=11.5, color="#8a8a8a", baseline="alphabetic").encode(
        x=alt.X("week:Q", scale=xs, axis=None), y=alt.value(35), text="m:N"),
    T("Jan", 49, 956, S0, 28, PINK, SANS, "bold"), VR(106, 933, 962, S0, PINK, 2.5), T("> 2020", 117, 956, S0, 29, PINK, SANS, "bold"),
    T("<", 403, 955, S0, 24, GREY, SANS), VR(427, 933, 962, S0, "#444444", 1.8), T("> 2021", 436, 955, S0, 24, GREY, SANS),
    T("<", 723, 955, S0, 24, GREY, SANS), VR(747, 933, 962, S0, "#444444", 1.8), T("> 2022", 756, 955, S0, 24, GREY, SANS),
    T("<", 1042, 955, S0, 24, GREY, SANS), VR(1066, 933, 962, S0, "#444444", 1.8), T("> 2023", 1076, 955, S0, 24, GREY, SANS),
    T("<", 1362, 955, S0, 24, GREY, SANS), VR(1386, 933, 962, S0, PINK, 2.5), T("> 2024", 1395, 956, S0, 29, PINK, SANS, "bold"),
    T("Dec 31", 1604, 956, S0, 28, PINK, SANS, "bold"), VR(1706, 933, 962, S0, "#444444", 1.8), T(">", 1710, 955, S0, 24, GREY, SANS),
]
strip = alt.layer(*strip_layers).properties(width=W, height=79)

# ---------- East panel ----------
E0 = 969
e_med = [(v, c, wk(117), wk(831), w) for v, c, w in east_medians_1] + [(v, c, wk(x), wk(1710), w) for v, c, x, w in east_medians_2]
ea, eb, el, ez = base_layers(ys_e, [-20,0,20,40,60,80,100,120], [-20,0,20,40,60,80,100,120], [-20,0,20,40,60,80,100,120], 9999, 1759)
east_layers = [ea, eb, el, medians(e_med, ys_e), ez]
east_layers += lines(east_series, ys_e)
east_letters = list(zip("ExcessMortalityRate", [880 + v / 1.75 for v in [292,330,365,402,438,474,535,573,609,645,682,718,754,790,827,888,925,961,998]]))
east_layers += [
    VR(366, 1265, 1608.6, E0, RED, 1.6), VR(426, 1247, 1608.6, E0, ORANGE, 2), VR(794.3, 1256, 1608.6, E0, "#a0607c", 1.8), VR(825, 1353.7, 1608.6, E0, "#1c1c1c", 4.5),
    T("95 Public 5G devices", 126, 1359, E0, 15.5, "#777777", weight="bold"), VR(199, 1367, 1456, E0, "#b0b0b0", 1.6),
    T("World", 233.7, 1135.4, E0, 18, "#aaaaaa", weight="bold", align="center"),
    T("Covid-19 panic", 233.7, 1158, E0, 18, "#aaaaaa", weight="bold", align="center"),
    T("period", 233.7, 1180.6, E0, 18, "#aaaaaa", weight="bold", align="center"),
    T("C19-Vaccine", 419.4, 1056.6, E0, 15.5, ORANGE), HR(419, 506, 1065.7, E0, ORANGE, 1.8),
    VR(426, 1066, 1101.7, E0, ORANGE, 6),
    BOX(366, 525.7, 1110, 1200.6, E0),
    VR(426, 1211, 1247, E0, ORANGE, 6), VR(366, 1119.4, 1265.7, E0, RED, 6),
    T("First complex", 376.6, 1135.4, E0, 17.4, RED, weight="bold"), HR(376.6, 411, 1139, E0, RED, 1),
    T("5G/XG networks", 376.6, 1158, E0, 17.4, RED, weight="bold"), T("start-up period", 376.6, 1180.6, E0, 17.4, RED, weight="bold"),
    HR(370, 508, 1190, E0, RED, 1.4), ARR(511, 1190, E0, RED, 196),
    T("5G", 636.6, 1141.7, E0, 18, align="center"), T("Second", 636.6, 1161.7, E0, 18, align="center"), T("Phase", 636.6, 1182.3, E0, 18, align="center"),
    HR(610, 664.6, 1190, E0, "#333333", 1.3), VR(644.6, 1190, 1329.7, E0, "#666666", 1.3),
    VR(794.3, 1124, 1252, E0, MAROON, 6), T("*RU-Wiki  -", 806, 1133.7, E0, 14, "#222222", style="italic"),
    T("Feb 24,", 871, 1133.7, E0, 14, "#222222", style="italic", weight="bold"), T("2020", 917, 1133.7, E0, 14, "#222222", style="italic"),
    T("- RUSSIA - UKRAINE -", 806, 1156.6, E0, 15.3, MAROON, weight="bold"), T("WAR START", 806, 1177, E0, 15, MAROON, weight="bold"),
    HR(806, 889, 1180, E0, MAROON, 1), HR(795, 985, 1190, E0, MAROON, 3), ARR(983, 1190, E0, MAROON, 400),
    T("Huawei Effect", 806, 1212, E0, 17.6, weight="bold"), T("(4G, 5G)", 921, 1212, E0, 15.5, style="italic"),
    T("US security agreement", 806, 1231.4, E0, 15.8, "#444444"), T("China, Russia Relation", 806, 1251.4, E0, 15.8, "#444444"),
    T("Reconsidering 5G Strategies", 999.4, 1246, E0, 18.8), HR(1001.7, 1207.4, 1254, E0, "#444444", 1.8), VR(1066, 1254, 1354, E0, "#222222", 1.2),
    T("Huawei Effect", 1074, 1275.4, E0, 17.6, weight="bold"), T("(4G, 5G)", 1188.6, 1275.4, E0, 15.5, style="italic"),
    T("US security agreement", 1074, 1295.4, E0, 15.8, "#444444"), T("China, Russia Relation", 1074, 1315, E0, 15.8, "#444444"),
    T("Median", 37, 1479, E0, 20, "#aaaaaa", weight="bold"),
    T("*EMRate-OWD-E", 1594, 1403, E0, 14.8, "#777777", weight="bold"),
    T("East European C.", 49, 1704, E0, 30, "#222222", weight="bold"), T("Less mature mobile", 49, 1728, E0, 20, "#222222", weight="bold"),
    T("infrastructure", 49, 1753, E0, 20, "#222222", weight="bold"), T("(mixed)", 178, 1753, E0, 21, "#222222", style="italic"),
]
east_layers += legend(east_legend, 1445.7, 1071.4, 37.95, E0)
east_layers += vertical(east_letters, 1751.4, E0)
east = alt.layer(*east_layers).properties(width=W, height=804)

chart = alt.vconcat(west, strip, east, spacing=0, bounds="flush").properties(padding=0).configure_view(stroke=None)
chart.save("out.html", embed_options={"renderer": "svg", "actions": False})
